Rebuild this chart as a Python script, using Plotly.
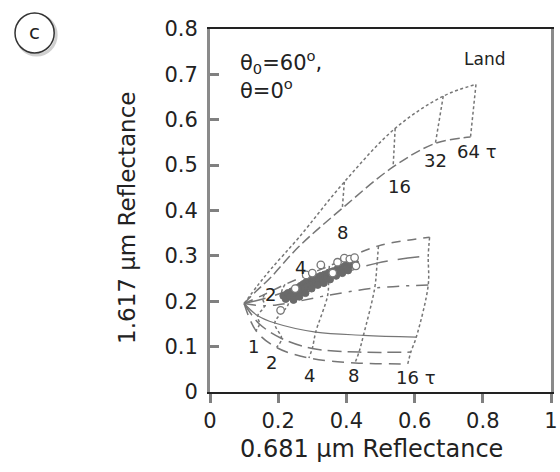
import plotly.graph_objects as go

# ---- optical-depth grid (tau) for the two lookup families ----
TAU_LAND = [0, 1, 2, 4, 8, 16, 32, 64]
land_upper_x = [0.100, 0.140, 0.180, 0.260, 0.394, 0.543, 0.684, 0.780]
land_upper_y = [0.195, 0.235, 0.272, 0.340, 0.463, 0.581, 0.652, 0.678]
land_lower_x = [0.100, 0.135, 0.175, 0.260, 0.388, 0.537, 0.661, 0.764]
land_lower_y = [0.195, 0.222, 0.250, 0.320, 0.405, 0.496, 0.548, 0.562]
LAND_ISO_TAU = [8, 16, 32, 64]

TAU_LOW = [0, 1, 2, 4, 8, 16]
curve_a_x = [0.100, 0.160, 0.220, 0.350, 0.494, 0.644]
curve_a_y = [0.195, 0.215, 0.237, 0.278, 0.322, 0.341]
curve_b_x = [0.100, 0.155, 0.210, 0.348, 0.490, 0.640]
curve_b_y = [0.195, 0.205, 0.218, 0.252, 0.284, 0.300]
curve_c_x = [0.100, 0.160, 0.230, 0.345, 0.483, 0.640]
curve_c_y = [0.195, 0.190, 0.196, 0.213, 0.229, 0.236]
curve_d_x = [0.100, 0.140, 0.190, 0.310, 0.450, 0.605]
curve_d_y = [0.195, 0.168, 0.152, 0.132, 0.125, 0.121]
curve_e_x = [0.100, 0.145, 0.210, 0.300, 0.437, 0.589]
curve_e_y = [0.195, 0.150, 0.118, 0.096, 0.088, 0.088]
curve_f_x = [0.100, 0.135, 0.195, 0.290, 0.425, 0.580]
curve_f_y = [0.195, 0.135, 0.098, 0.075, 0.064, 0.062]
LOW_ISO_TAU = [1, 2, 4, 8, 16]

# ---- observations ----
obs_filled_x = [0.215, 0.222, 0.228, 0.235, 0.240, 0.245, 0.250, 0.255, 0.258, 0.262,
                0.266, 0.270, 0.274, 0.278, 0.282, 0.286, 0.290, 0.294, 0.298, 0.302,
                0.306, 0.310, 0.315, 0.320, 0.325, 0.330, 0.336, 0.342, 0.348, 0.354,
                0.360, 0.366, 0.372, 0.378, 0.384, 0.390, 0.396, 0.402, 0.408, 0.414,
                0.420, 0.426, 0.245, 0.262, 0.280, 0.298, 0.316, 0.334, 0.352, 0.370,
                0.388, 0.405]
obs_filled_y = [0.212, 0.205, 0.218, 0.210, 0.222, 0.214, 0.226, 0.218, 0.230, 0.222,
                0.234, 0.226, 0.238, 0.229, 0.242, 0.233, 0.245, 0.236, 0.248, 0.239,
                0.250, 0.242, 0.253, 0.246, 0.256, 0.249, 0.259, 0.254, 0.263, 0.258,
                0.266, 0.262, 0.270, 0.266, 0.274, 0.270, 0.278, 0.275, 0.283, 0.280,
                0.287, 0.284, 0.203, 0.210, 0.218, 0.228, 0.236, 0.240, 0.248, 0.256,
                0.262, 0.268]
obs_open_x = [0.207, 0.250, 0.282, 0.300, 0.325, 0.360, 0.374, 0.394, 0.410, 0.424, 0.428]
obs_open_y = [0.180, 0.228, 0.258, 0.262, 0.280, 0.262, 0.286, 0.295, 0.293, 0.296, 0.278]

X_TICKS = [0, 0.2, 0.4, 0.6, 0.8, 1]
X_TICK_TEXT = ["0", "0.2", "0.4", "0.6", "0.8", "1"]
Y_TICKS = [0, 0.1, 0.2, 0.3, 0.4, 0.5, 0.6, 0.7, 0.8]
Y_TICK_TEXT = ["0", "0.1", "0.2", "0.3", "0.4", "0.5", "0.6", "0.7", "0.8"]

LINE = "#767676"
FONT = "DejaVu Sans"

fig = go.Figure()


def curve(xs, ys, dash, width=1.5, shape="spline"):
    fig.add_trace(go.Scatter(x=xs, y=ys, mode="lines", hoverinfo="skip",
                             line=dict(color=LINE, width=width, dash=dash,
                                       shape=shape, smoothing=1.0),
                             showlegend=False))


# land family: two curves joined by dotted iso-tau segments
curve(land_upper_x, land_upper_y, "3px,2.5px")
curve(land_lower_x, land_lower_y, "10px,4px")
for t in LAND_ISO_TAU:
    i = TAU_LAND.index(t)
    curve([land_upper_x[i], land_lower_x[i]], [land_upper_y[i], land_lower_y[i]],
          "3px,2.5px", shape="linear")

# lower family
low_curves = [
    (curve_a_x, curve_a_y, "9px,7px", 1.5),
    (curve_b_x, curve_b_y, "22px,10px", 1.5),
    (curve_c_x, curve_c_y, "12px,7px,3px,7px", 1.5),
    (curve_d_x, curve_d_y, "solid", 1.2),
    (curve_e_x, curve_e_y, "14px,6px", 1.5),
    (curve_f_x, curve_f_y, "12px,7px", 1.5),
]
for xs, ys, dash, w in low_curves:
    curve(xs, ys, dash, w)
for t in LOW_ISO_TAU:
    i = TAU_LOW.index(t)
    curve([c[0][i] for c in low_curves], [c[1][i] for c in low_curves], "3px,2.5px")

# observations
fig.add_trace(go.Scatter(x=obs_filled_x, y=obs_filled_y, mode="markers", hoverinfo="skip",
                         marker=dict(size=7, color="#6a6a6a",
                                     line=dict(color="#6a6a6a", width=1)),
                         showlegend=False))
fig.add_trace(go.Scatter(x=obs_open_x, y=obs_open_y, mode="markers", hoverinfo="skip",
                         marker=dict(size=7.5, color="white",
                                     line=dict(color="#777777", width=1.3)),
                         showlegend=False))

# labels
def label(x, y, text, size=18, anchor="center"):
    fig.add_annotation(x=x, y=y, xref="x", yref="y", text=text, showarrow=False,
                       xanchor=anchor, yanchor="middle",
                       font=dict(family=FONT, size=size, color="#222"))


land_labels = [(0.178, 0.214, "2"), (0.264, 0.275, "4"), (0.388, 0.352, "8"),
               (0.555, 0.452, "16"), (0.661, 0.511, "32"), (0.782, 0.529, "64 τ")]
low_labels = [(0.129, 0.101, "1"), (0.181, 0.066, "2"), (0.293, 0.037, "4"),
              (0.422, 0.037, "8"), (0.603, 0.033, "16 τ")]
for x, y, t in land_labels + low_labels:
    label(x, y, t, size=18)

label(0.083, 0.727, "θ<sub>0</sub>=60<sup>o</sup>,", size=21, anchor="left")
label(0.083, 0.668, "θ=0<sup>o</sup>", size=21, anchor="left")
label(0.805, 0.733, "Land", size=17)

# axis titles
fig.add_annotation(x=-0.244, y=0.479, xref="paper", yref="paper", showarrow=False,
                   text="1.617 µm Reflectance", textangle=-90,
                   xanchor="center", yanchor="middle",
                   font=dict(family=FONT, size=23, color="#222"))
fig.add_annotation(x=0.474, y=-0.157, xref="paper", yref="paper", showarrow=False,
                   text="0.681 µm Reflectance",
                   xanchor="center", yanchor="middle",
                   font=dict(family=FONT, size=24, color="#222"))

# panel letter in a circle
PW, PH, L, B = 348.0, 363.0, 210.0, 392.0
def px(xp):
    return (xp - L) / PW
def py(yp):
    return (B - yp) / PH

fig.add_shape(type="circle", xref="paper", yref="paper",
              x0=px(13), x1=px(53), y0=py(55), y1=py(15),
              line=dict(color="#d0d0d0", width=3), fillcolor="rgba(0,0,0,0)")
fig.add_shape(type="circle", xref="paper", yref="paper",
              x0=px(11), x1=px(51), y0=py(53), y1=py(13),
              line=dict(color="#333", width=1.5), fillcolor="white")
fig.add_annotation(x=px(31), y=py(32), xref="paper", yref="paper", text="c",
                   showarrow=False, xanchor="center", yanchor="middle",
                   font=dict(family=FONT, size=20, color="#222"))

fig.update_layout(
    width=560, height=472,
    margin=dict(l=210, r=2, t=29, b=80),
    paper_bgcolor="white", plot_bgcolor="white",
    font=dict(family=FONT, size=21, color="#222"),
    xaxis=dict(range=[0, 1], tickvals=X_TICKS, ticktext=X_TICK_TEXT,
               showgrid=False, zeroline=False, showline=True, linecolor="#222",
               linewidth=2, mirror=True, ticks="outside", ticklen=9,
               tickwidth=2.5, tickcolor="#808080", ticklabeloverflow="allow",
               tickfont=dict(family=FONT, size=21, color="#222")),
    yaxis=dict(range=[0, 0.8], tickvals=Y_TICKS, ticktext=Y_TICK_TEXT,
               showgrid=False, zeroline=False, showline=True, linecolor="#8a8a8a",
               linewidth=3, mirror=True, ticks="inside", ticklen=9,
               tickwidth=2.5, tickcolor="#808080", ticklabelstandoff=5,
               tickfont=dict(family=FONT, size=21, color="#222")),
)

fig.write_html("out.html")
